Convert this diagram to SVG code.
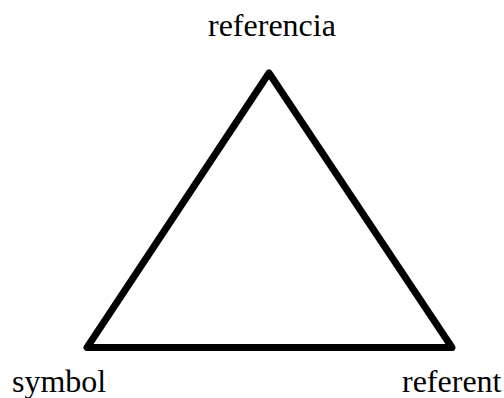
<svg xmlns="http://www.w3.org/2000/svg" width="504" height="398" viewBox="0 0 504 398">
<style>
text{font-family:"Liberation Serif","Times New Roman",serif;font-size:32px;fill:#000}
.edge{fill:none;stroke:#000;stroke-width:7;stroke-linejoin:round;stroke-linecap:round}
</style>
<rect width="504" height="398" fill="#fff"/>
<g id="connectors">
<polygon class="edge" points="269,73 87,347.5 452,347.5"/>
</g>
<g id="referencia"><text x="208" y="36">referencia</text></g>
<g id="symbol"><text x="12" y="392">symbol</text></g>
<g id="referent"><text x="402" y="392">referent</text></g>
</svg>
